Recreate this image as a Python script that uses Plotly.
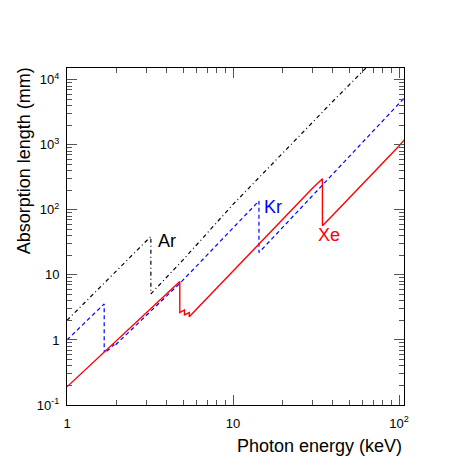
import numpy as np
import plotly.graph_objects as go

# Photon energy (keV) and absorption length (mm)
ar_energy = [1.0, 2.0, 3.2, 3.2, 5.0, 10.0, 20.0, 40.0, 63.0, 70.0]
ar_length = [2.0, 11.7, 39.0, 5.1, 17.0, 121.0, 760.0, 4670.0, 15000.0, 19700.0]

kr_energy = [1.0, 1.3, 1.675, 1.675, 1.727, 1.727, 1.921, 1.921, 3.0, 4.0, 4.78,
             6.0, 8.0, 10.0, 12.0, 14.33, 14.33, 20.0, 30.0, 40.0, 60.0, 80.0, 100.0, 108.0]
kr_length = [1.0, 1.92, 3.58, 0.66, 0.71, 0.66, 0.85, 0.80, 2.37, 4.79, 7.4,
             13.5, 29.1, 52.7, 85.6, 137.0, 22.0, 54.1, 162.0, 352.0, 1050.0, 2280.0, 4300.0, 5300.0]

xe_energy = [1.0, 1.5, 2.0, 3.0, 4.0, 4.78, 4.78, 5.10, 5.10, 5.45, 5.45, 6.0, 8.0, 10.0,
             15.0, 20.0, 30.0, 34.56, 34.56, 40.0, 50.0, 60.0, 80.0, 100.0, 108.0]
xe_length = [0.19, 0.50, 1.0, 2.65, 5.2, 7.9, 2.63, 2.89, 2.43, 2.63, 2.28, 2.95, 6.3, 11.4,
             33.7, 72.4, 213.0, 300.0, 56.8, 83.6, 150.6, 244.0, 521.0, 960.0, 1200.0]

x_tickvals = [1, 10, 100]
x_ticktext = ["1", "10", "10<sup>2</sup>"]
y_tickvals = [0.1, 1, 10, 100, 1000, 10000]
y_ticktext = ["10<sup>-1</sup>", "1", "10", "10<sup>2</sup>", "10<sup>3</sup>", "10<sup>4</sup>"]

FONT = "Liberation Sans, Arial, sans-serif"

fig = go.Figure()

fig.add_trace(go.Scatter(x=ar_energy, y=ar_length, mode="lines", showlegend=False,
                         line=dict(color="black", width=1.2, dash="4px,3px,1px,3px")))
fig.add_trace(go.Scatter(x=kr_energy, y=kr_length, mode="lines", showlegend=False,
                         line=dict(color="blue", width=1.2, dash="4px,3px")))
fig.add_trace(go.Scatter(x=xe_energy, y=xe_length, mode="lines", showlegend=False,
                         line=dict(color="red", width=1.4)))

# element labels next to the K edges
for text, x, y, color in [("Ar", 3.42, 33.0, "black"), ("Kr", 14.9, 111.0, "blue"),
                          ("Xe", 31.5, 41.0, "red")]:
    fig.add_annotation(x=np.log10(x), y=np.log10(y), text=text, showarrow=False,
                       xanchor="left", yanchor="middle",
                       font=dict(family=FONT, size=18, color=color))

# ROOT style axis titles, right aligned
fig.add_annotation(xref="paper", yref="paper", x=1.0, y=-0.122, text="Photon energy (keV)",
                   showarrow=False, xanchor="right", yanchor="middle",
                   font=dict(family=FONT, size=18, color="black"))
fig.add_annotation(xref="paper", yref="paper", x=-0.125, y=1.009, text="Absorption length (mm)",
                   showarrow=False, xanchor="center", yanchor="top", textangle=-90,
                   font=dict(family=FONT, size=18, color="black"))

x_minor = [m * d for d in (1, 10) for m in range(2, 10)]
y_minor = [m * d for d in (0.1, 1, 10, 100, 1000, 10000) for m in range(2, 10)]

axis_style = dict(
    type="log", showgrid=False, zeroline=False, showline=True, linecolor="black", linewidth=1,
    mirror="allticks", ticks="inside", ticklen=10, tickwidth=1, tickcolor="#555",
    tickfont=dict(family=FONT, size=13, color="black"),
)
fig.update_xaxes(range=[0, 2.03], tickvals=x_tickvals, ticktext=x_ticktext, ticklabelstandoff=6,
                 minor=dict(tickvals=x_minor, ticks="inside", ticklen=5, tickcolor="#555"),
                 **axis_style)
fig.update_yaxes(range=[-1, 4.18], tickvals=y_tickvals, ticktext=y_ticktext, ticklabelstandoff=4,
                 minor=dict(tickvals=y_minor, ticks="inside", ticklen=5, tickcolor="#555"),
                 **axis_style)

# the page body adds an 8px offset, so the figure is 8px smaller than the window
fig.update_layout(width=465, height=465, autosize=False,
                  margin=dict(l=59, r=69, t=60, b=68),
                  plot_bgcolor="white", paper_bgcolor="white",
                  font=dict(family=FONT, color="black"))

fig.write_html("out.html")
